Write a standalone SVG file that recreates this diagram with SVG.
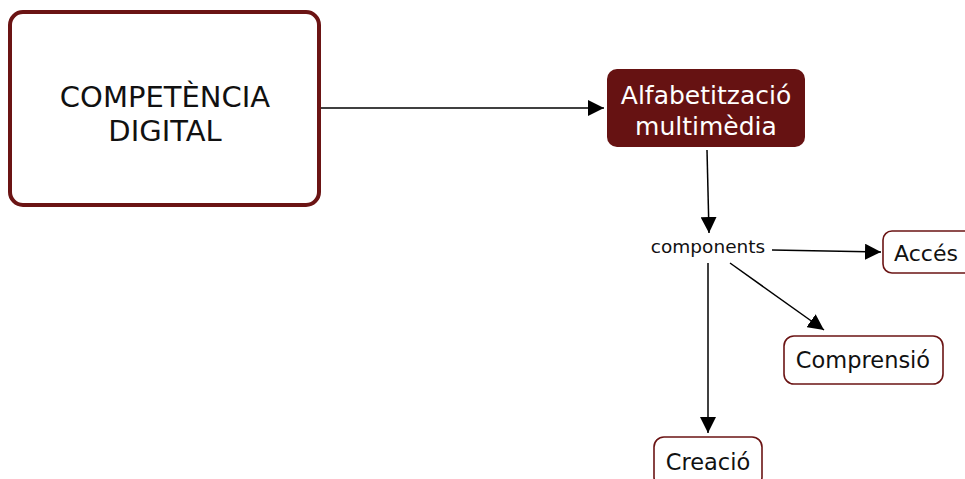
<svg xmlns="http://www.w3.org/2000/svg" width="965" height="479" viewBox="0 0 965 479">
  <defs>
    <marker id="arrow" viewBox="0 0 16 16" refX="16" refY="8" markerWidth="16" markerHeight="16" markerUnits="userSpaceOnUse" orient="auto">
      <path d="M0,0 L16,8 L0,16 Z" fill="#000"/>
    </marker>
  </defs>
  <style>
    .lbl { font-family: "DejaVu Sans", Verdana, sans-serif; fill: #111; text-anchor: middle; }
    .box { fill: #fff; stroke: #6b1414; stroke-width: 1.6; }
    .edge { stroke: #000; stroke-width: 1.5; fill: none; marker-end: url(#arrow); }
  </style>
  <rect width="965" height="479" fill="#fff"/>

  <g id="connectors">
    <line class="edge" x1="321" y1="108" x2="604" y2="108"/>
    <line class="edge" x1="707" y1="150" x2="709" y2="233"/>
    <line class="edge" x1="772" y1="250" x2="881" y2="252"/>
    <line class="edge" x1="730" y1="263" x2="824" y2="330"/>
    <line class="edge" x1="708" y1="263" x2="708" y2="433"/>
  </g>

  <g id="competencia">
    <rect x="10" y="12" width="309" height="193" rx="13" fill="#fff" stroke="#6b1414" stroke-width="4"/>
    <text class="lbl" x="165" y="107" font-size="29">COMPETÈNCIA</text>
    <text class="lbl" x="165" y="141" font-size="29">DIGITAL</text>
  </g>

  <g id="alfabetitzacio">
    <rect x="607" y="69" width="198" height="78" rx="10" fill="#661212"/>
    <text class="lbl" x="706" y="104" font-size="25" style="fill:#fff">Alfabetització</text>
    <text class="lbl" x="706" y="135" font-size="25" style="fill:#fff">multimèdia</text>
  </g>

  <g id="components">
    <text class="lbl" x="708" y="253" font-size="18.5">components</text>
  </g>

  <g id="acces">
    <rect class="box" x="883" y="231" width="90" height="42" rx="9"/>
    <text class="lbl" x="926" y="261" font-size="22">Accés</text>
  </g>

  <g id="comprensio">
    <rect class="box" x="784" y="336" width="159" height="48" rx="10"/>
    <text class="lbl" x="863" y="368" font-size="22.5">Comprensió</text>
  </g>

  <g id="creacio">
    <rect class="box" x="654" y="437" width="108" height="50" rx="10"/>
    <text class="lbl" x="708" y="470" font-size="22.5">Creació</text>
  </g>
</svg>
